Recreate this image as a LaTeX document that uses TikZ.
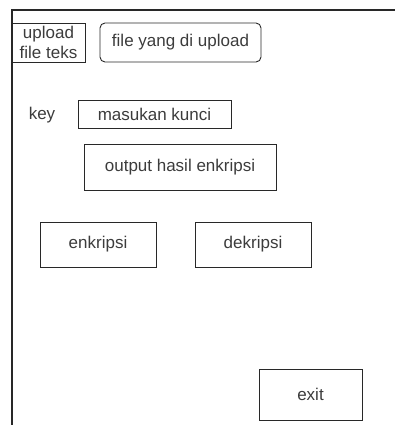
\documentclass[tikz,border=0pt]{standalone}
\usepackage{fontspec}
\setmainfont{Liberation Sans}
\definecolor{ink}{RGB}{40,40,40}
\definecolor{txt}{RGB}{60,60,60}
\begin{document}
\begin{tikzpicture}[x=1pt,y=-1pt,
  every node/.style={font=\fontsize{17}{20}\selectfont, text=txt},
  box/.style={draw=ink, line width=0.9pt, inner sep=0pt},
  rbox/.style={box, rounded corners=5pt}]
\useasboundingbox (0,0) rectangle (395,425);
% window frame
\draw[ink, line width=1.2pt] (395,10) -- (12,10) -- (12,425);
% widgets
\node[box, minimum width=73pt, minimum height=39pt, align=center] (upload) at (48.5,42.5) {upload\\file teks};
\node[rbox, minimum width=161pt, minimum height=39pt] (file) at (180.5,42.5) {file yang di upload};
\node (key) at (42,115) {key};
\node[box, minimum width=153pt, minimum height=28pt] (kunci) at (154.5,114) {masukan kunci};
\node[box, minimum width=192pt, minimum height=46pt] (output) at (180,167) {output hasil enkripsi};
\node[box, minimum width=116pt, minimum height=45pt] (enk) at (98,244.5) {enkripsi};
\node[box, minimum width=116pt, minimum height=45pt] (dek) at (253,244.5) {dekripsi};
\node[box, minimum width=103pt, minimum height=51pt] (exit) at (310.5,394.5) {exit};
\end{tikzpicture}
\end{document}
